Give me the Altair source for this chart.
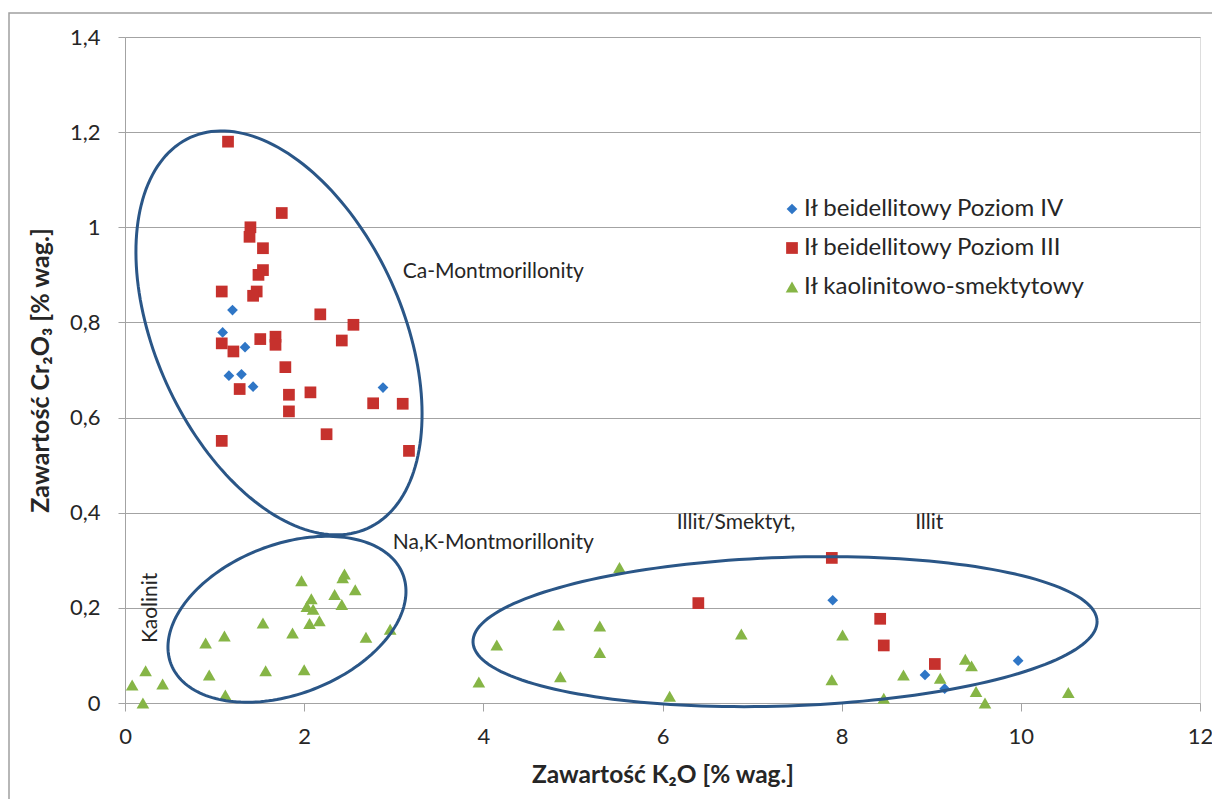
import altair as alt
import numpy as np
import pandas as pd

# ---------------- data ----------------
S_IV = "Ił beidellitowy Poziom IV"
S_III = "Ił beidellitowy Poziom III"
S_K = "Ił kaolinitowo-smektytowy"
SERIES = [S_IV, S_III, S_K]

iv_x = [1.20, 1.09, 1.34, 1.16, 1.30, 1.43, 2.88, 7.90, 8.93, 9.15, 9.97]
iv_y = [0.826, 0.779, 0.748, 0.688, 0.691, 0.665, 0.663, 0.216, 0.059, 0.030, 0.089]

iii_x = [1.15, 1.75, 1.40, 1.39, 1.54, 1.54, 1.49, 1.08, 1.47, 1.43, 2.18, 2.55,
         1.51, 1.68, 1.68, 2.42, 1.08, 1.21, 1.79, 1.28, 1.83, 2.07, 1.83, 2.77,
         3.10, 1.08, 2.25, 3.17, 6.40, 7.89, 8.43, 8.47, 9.04]
iii_y = [1.18, 1.03, 1.00, 0.98, 0.956, 0.91, 0.90, 0.865, 0.865, 0.856, 0.817, 0.795,
         0.765, 0.77, 0.753, 0.762, 0.756, 0.739, 0.706, 0.66, 0.648, 0.653, 0.613, 0.63,
         0.629, 0.551, 0.565, 0.53, 0.21, 0.305, 0.177, 0.121, 0.082]

kao_x = [0.08, 0.20, 0.23, 0.42, 0.90, 1.11, 0.94, 1.12, 1.54, 1.57, 1.87, 2.00,
         1.97, 2.08, 2.03, 2.10, 2.06, 2.17, 2.34, 2.42, 2.45, 2.43, 2.57, 2.69,
         2.96, 3.95, 4.15, 4.84, 4.86, 5.30, 5.30, 5.52, 6.08, 6.88, 7.89, 8.01,
         8.47, 8.69, 9.10, 9.38, 9.45, 9.50, 9.60, 10.53]
kao_y = [0.038, 0.0, 0.068, 0.04, 0.126, 0.141, 0.059, 0.017, 0.168, 0.068, 0.147, 0.07,
         0.257, 0.219, 0.203, 0.197, 0.167, 0.173, 0.228, 0.207, 0.271, 0.263, 0.238, 0.138,
         0.155, 0.044, 0.122, 0.164, 0.055, 0.162, 0.106, 0.285, 0.014, 0.145, 0.049, 0.143,
         0.01, 0.059, 0.052, 0.092, 0.078, 0.024, 0.0, 0.022]

# outline ellipses: centre and two conjugate semi-diameters, in data units
ell_name = ["Ca", "NaK", "Illit"]
ell_cx = [1.719, 1.808, 7.368]
ell_cy = [0.778, 0.176, 0.150]
ell_ux = [0.9896, 1.2937, 3.4832]
ell_uy = [-0.4108, 0.0945, 0.0223]
ell_vx = [-1.2535, 0.3019, 0.0282]
ell_vy = [-0.1071, -0.1466, -0.1561]

# annotation labels
ann_text = ["Ca-Montmorillonity", "Na,K-Montmorillonity", "Illit/Smektyt,", "Illit"]
ann_x = [3.10, 2.99, 6.16, 8.82]
ann_y = [0.907, 0.337, 0.379, 0.379]
kao_label = ["Kaolinit"]
kao_label_x = [0.29]
kao_label_y = [0.200]

x_ticks = [0, 2, 4, 6, 8, 10, 12]
y_ticks = [0, 0.2, 0.4, 0.6, 0.8, 1.0, 1.2, 1.4]

X_TITLE = "Zawartość K₂O [% wag.]"
Y_TITLE = "Zawartość Cr₂O₃ [% wag.]"

# ---------------- tables ----------------
pts = pd.concat([
    pd.DataFrame({"x": iv_x, "y": iv_y, "series": S_IV}),
    pd.DataFrame({"x": iii_x, "y": iii_y, "series": S_III}),
    pd.DataFrame({"x": kao_x, "y": kao_y, "series": S_K}),
], ignore_index=True)

t = np.linspace(0, 2 * np.pi, 181)
rows = []
for n, cx, cy, ux, uy, vx, vy in zip(ell_name, ell_cx, ell_cy, ell_ux, ell_uy, ell_vx, ell_vy):
    for i, tt in enumerate(t):
        rows.append({"name": n, "i": i,
                     "x": cx + ux * np.cos(tt) + vx * np.sin(tt),
                     "y": cy + uy * np.cos(tt) + vy * np.sin(tt)})
ell = pd.DataFrame(rows)

ann = pd.DataFrame({"text": ann_text, "x": ann_x, "y": ann_y})
kao_ann = pd.DataFrame({"text": kao_label, "x": kao_label_x, "y": kao_label_y})

W, H = 1075, 666
FONT = "Lato"
TXT = "#262626"
GREY = "#a3a3a3"

xscale = alt.Scale(domain=[0, 12], nice=False, zero=False)
yscale = alt.Scale(domain=[0, 1.4], nice=False, zero=False)

x_axis = alt.Axis(values=x_ticks, format="d", grid=False, domainColor=GREY,
                  tickColor=GREY, tickSize=8, labelFontSize=22, labelPadding=15,
                  labelFont=FONT, labelColor=TXT, labelFlush=False, labelOverlap=False,
                  titleFont=FONT, titleFontSize=24.5, titleFontWeight="bold",
                  titleColor=TXT, titleX=W / 2, titleY=72, titleBaseline="middle",
                  titleAlign="center")
y_axis = alt.Axis(values=y_ticks, grid=True, gridColor=GREY, gridWidth=1.2,
                  domainColor=GREY, tickColor=GREY, tickSize=7, labelFontSize=22,
                  labelPadding=18, labelFont=FONT, labelColor=TXT, labelFlush=False,
                  labelOverlap=False,
                  labelExpr="replace(format(datum.value, '~g'), '.', ',')",
                  titleFont=FONT, titleFontSize=25,
                  titleFontWeight="bold", titleColor=TXT, titleX=-85, titleY=H / 2,
                  titleAngle=270, titleBaseline="middle", titleAlign="center")

legend = alt.Legend(title=None, orient="none", legendX=655, legendY=160,
                    labelFont=FONT, labelFontSize=24, labelColor=TXT, labelLimit=0,
                    symbolSize=110, symbolStrokeWidth=0, rowPadding=15,
                    labelOffset=0, padding=0)


def X():
    return alt.X("x:Q", scale=xscale, title=X_TITLE)


def Y():
    return alt.Y("y:Q", scale=yscale, title=Y_TITLE)


points = alt.Chart(pts).mark_point(filled=True, opacity=1, strokeWidth=0).encode(
    x=alt.X("x:Q", scale=xscale, axis=x_axis, title=X_TITLE),
    y=alt.Y("y:Q", scale=yscale, axis=y_axis, title=Y_TITLE),
    color=alt.Color("series:N", scale=alt.Scale(domain=SERIES,
                    range=["#2f76c6", "#c6312d", "#86b546"]), legend=legend, sort=SERIES),
    shape=alt.Shape("series:N", scale=alt.Scale(domain=SERIES,
                    range=["diamond", "square", "triangle-up"]), legend=legend, sort=SERIES),
    size=alt.Size("series:N", scale=alt.Scale(domain=SERIES, range=[115, 160, 180]),
                  legend=None),
)

ellipses = alt.Chart(ell).mark_line(color="#2a5687", strokeWidth=3).encode(
    x=X(), y=Y(), detail="name:N", order="i:Q",
)

labels = alt.Chart(ann).mark_text(align="left", baseline="middle", font=FONT,
                                  fontSize=21, color=TXT).encode(
    x=X(), y=Y(), text="text:N",
)

kao_text = alt.Chart(kao_ann).mark_text(align="center", baseline="middle", font=FONT,
                                        fontSize=21, color=TXT, angle=270).encode(
    x=X(), y=Y(), text="text:N",
)

frame = alt.Chart(pd.DataFrame({"k": [0]})).mark_rect(
    fillOpacity=0, stroke="#a0a0a0", strokeWidth=1.5).encode(
    x=alt.value(-116), x2=alt.value(1120), y=alt.value(-24), y2=alt.value(820))

chart = alt.layer(points, ellipses, labels, kao_text, frame).properties(
    width=W, height=H,
    autosize=alt.AutoSizeParams(type="none"),
    padding={"left": 117, "top": 29, "right": 12, "bottom": 96},
).configure_view(strokeWidth=0).configure(background="white")

chart.save("out.html", embed_options={"renderer": "svg", "actions": False})
